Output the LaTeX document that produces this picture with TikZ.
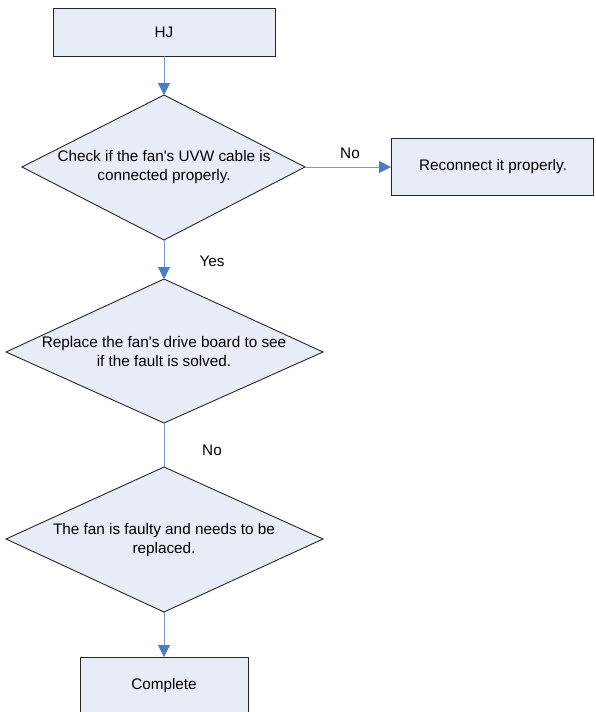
\documentclass[tikz,border=0pt]{standalone}
\usepackage{fontspec}
\setmainfont{Liberation Sans}
\usetikzlibrary{arrows.meta,shapes.geometric}
\definecolor{boxfill}{HTML}{E8ECF7}
\definecolor{linkblue}{HTML}{6F9AD3}
\definecolor{headblue}{HTML}{4A7BC4}
\begin{document}
\begin{tikzpicture}[x=1pt,y=-1pt,
  every node/.style={font=\fontsize{15.3}{19}\selectfont},
  procbox/.style={draw=black!85,line width=0.9pt,fill=boxfill,inner sep=0pt},
  decision/.style={draw=black!85,line width=0.9pt,fill=boxfill},
  link/.style={draw=linkblue,line width=1pt},
  arrowlink/.style={link,-{Triangle[width=12pt,length=12pt,color=headblue]}},
  lbl/.style={inner sep=0pt}
]
\clip (0,0) rectangle (595,712);
\fill[white] (0,0) rectangle (595,712);
% boxes
\draw[procbox] (53,8) rectangle (275,56);
\node[lbl] (hj) at (164,32) {HJ};
\coordinate (hjb) at (164,56);

\draw[decision] (164,95) -- (305,167) -- (164,240) -- (22,167) -- cycle;
\coordinate (d1t) at (164,95);
\coordinate (d1b) at (164,240);
\coordinate (d1r) at (305,167);
\node[lbl,align=center] (d1) at (164,167) {Check if the fan\textquotesingle s UVW cable is\\connected properly.};

\draw[procbox] (391,138) rectangle (593,195);
\coordinate (rcl) at (391,167);
\node[lbl] (rc) at (493,167) {Reconnect it properly.};

\draw[decision] (164,279) -- (323,352) -- (164,423) -- (6,352) -- cycle;
\coordinate (d2t) at (164,279);
\coordinate (d2b) at (164,423);
\node[lbl,align=center] (d2) at (164,352) {Replace the fan\textquotesingle s drive board to see\\if the fault is solved.};

\draw[decision] (164,467) -- (323,539) -- (164,612) -- (6,539) -- cycle;
\coordinate (d3t) at (164,467);
\coordinate (d3b) at (164,612);
\node[lbl,align=center] (d3) at (164,540) {The fan is faulty and needs to be\\replaced.};

\draw[procbox] (80,657) rectangle (248,730);
\coordinate (cpt) at (164,657);
\node[lbl] (cp) at (164,686) {Complete};

% connectors
\draw[arrowlink] (hjb) -- (d1t);
\draw[arrowlink] (d1r) -- (rcl);
\draw[arrowlink] (d1b) -- (d2t);
\draw[link] (d2b) -- (d3t);
\draw[arrowlink] (d3b) -- (cpt);

% labels
\node[lbl] (no1) at (350,153) {No};
\node[lbl] (yes) at (212,261) {Yes};
\node[lbl] (no2) at (212,450) {No};
\end{tikzpicture}
\end{document}
